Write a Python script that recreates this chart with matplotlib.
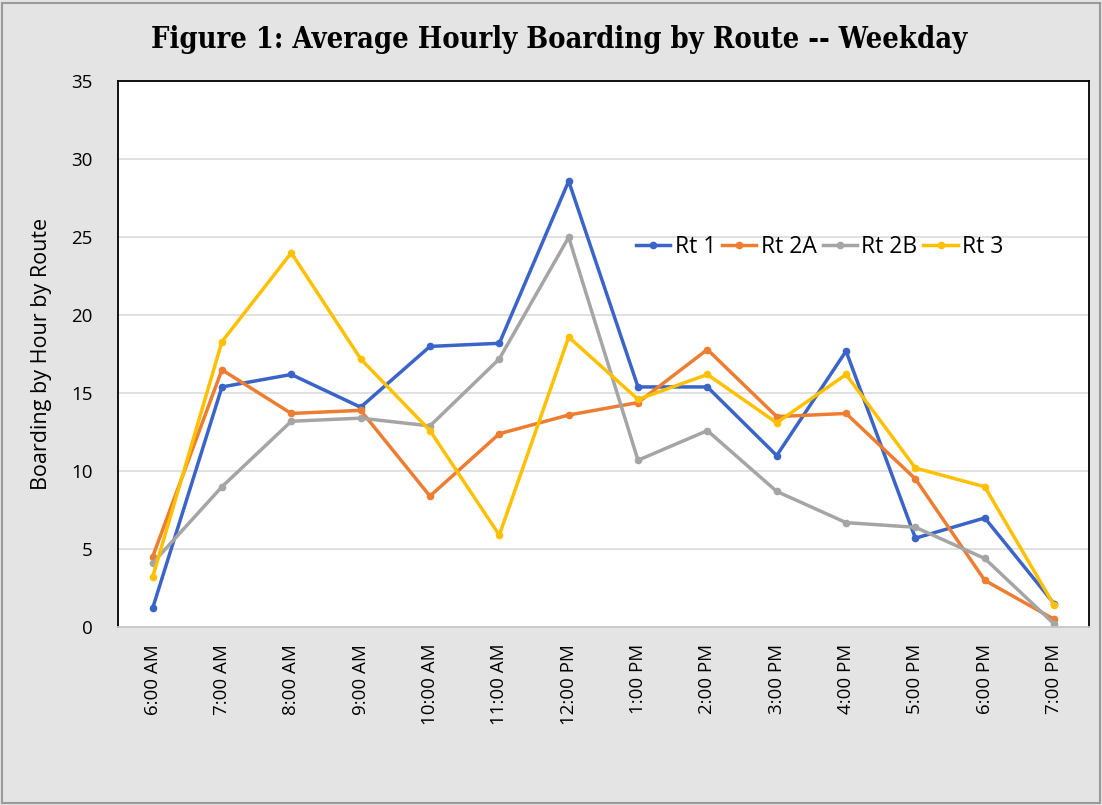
import matplotlib.pyplot as plt
import numpy as np

# hourly boarding data
hours = ["6:00 AM", "7:00 AM", "8:00 AM", "9:00 AM", "10:00 AM", "11:00 AM",
         "12:00 PM", "1:00 PM", "2:00 PM", "3:00 PM", "4:00 PM", "5:00 PM",
         "6:00 PM", "7:00 PM"]
rt1 = [1.2, 15.4, 16.2, 14.1, 18.0, 18.2, 28.6, 15.4, 15.4, 11.0, 17.7, 5.7, 7.0, 1.5]
rt2a = [4.5, 16.5, 13.7, 13.9, 8.4, 12.4, 13.6, 14.4, 17.8, 13.5, 13.7, 9.5, 3.0, 0.5]
rt2b = [4.1, 9.0, 13.2, 13.4, 12.9, 17.2, 25.0, 10.7, 12.6, 8.7, 6.7, 6.4, 4.4, 0.2]
rt3 = [3.2, 18.3, 24.0, 17.2, 12.6, 5.9, 18.6, 14.6, 16.2, 13.1, 16.2, 10.2, 9.0, 1.4]

series = [("Rt 1", rt1, "#3A64C8"),
          ("Rt 2A", rt2a, "#ED7D31"),
          ("Rt 2B", rt2b, "#A5A5A5"),
          ("Rt 3", rt3, "#FFC000")]

fig = plt.figure(figsize=(11.02, 8.05), dpi=100, facecolor="#e4e4e4")
ax = fig.add_axes([0.107, 0.221, 0.881, 0.678])
ax.set_facecolor("white")

x = np.arange(len(hours))
for name, vals, col in series:
    ax.plot(x, vals, color=col, lw=2.5, marker="o", ms=4.5, label=name)

ax.set_xlim(-0.5, len(hours) - 0.5)
ax.set_ylim(0, 35)
ax.set_yticks(range(0, 36, 5))
ax.set_xticks(x)
ax.set_xticklabels(hours, rotation=90, fontsize=13.5, family="Open Sans")
ax.tick_params(axis="y", labelsize=13.5, length=0, pad=18)
ax.tick_params(axis="x", length=0, pad=12)
for lbl in ax.get_yticklabels():
    lbl.set_family("Open Sans")
ax.grid(axis="y", color="#dcdcdc", lw=1.2)
ax.set_axisbelow(True)

for s in ["left", "top", "right"]:
    ax.spines[s].set_color("black")
    ax.spines[s].set_linewidth(1.3)
ax.spines["bottom"].set_color("#c8c8c8")
ax.spines["bottom"].set_linewidth(1.3)

ax.set_ylabel("Boarding by Hour by Route", fontsize=15.5, family="Open Sans", labelpad=14)

ax.legend(loc="center", bbox_to_anchor=(0.723, 0.696), ncol=4, frameon=False,
          prop={"family": "Open Sans", "size": 16.5}, handlelength=1.5,
          handletextpad=0.2, columnspacing=0.25, borderaxespad=0)

fig.text(0.507, 0.951, "Figure 1: Average Hourly Boarding by Route -- Weekday",
         ha="center", va="center", fontsize=20.8, fontweight="bold",
         family="DejaVu Serif", fontstretch="condensed")

# thin outer frame like the pasted screenshot
fig.patches.append(plt.Rectangle((0.002, 0.002), 0.996, 0.994, transform=fig.transFigure,
                                 fill=False, edgecolor="#9a9a9a", lw=1.5))

fig.savefig("out.png", dpi=100, facecolor=fig.get_facecolor())
